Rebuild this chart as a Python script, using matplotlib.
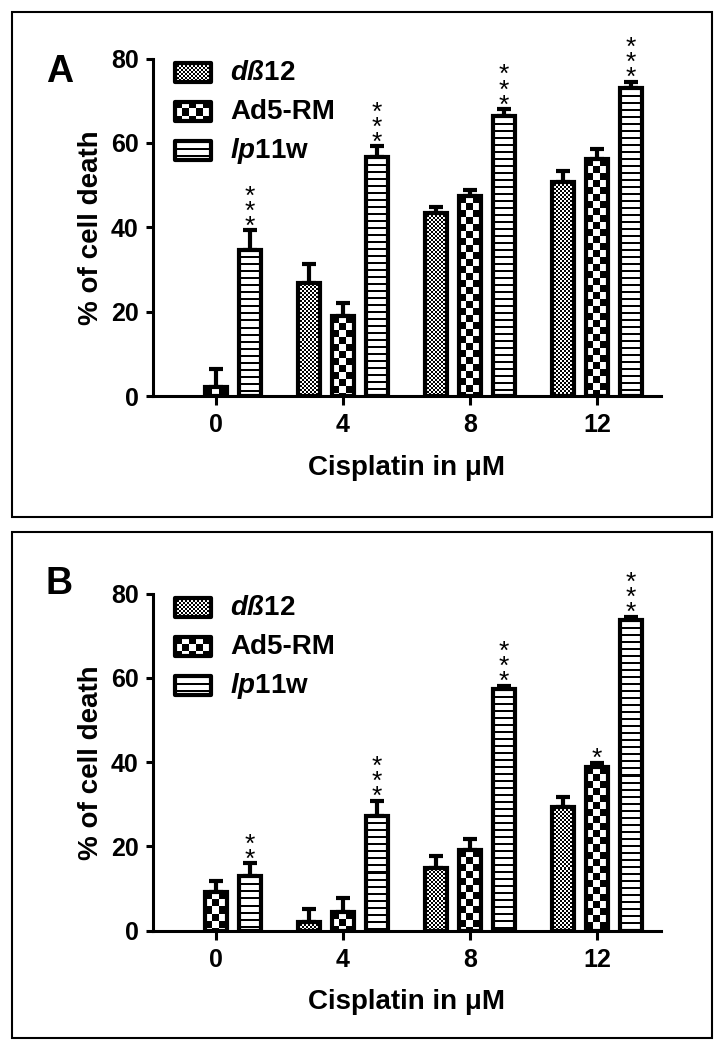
import numpy as np
import matplotlib
matplotlib.use('Agg')
import matplotlib.pyplot as plt
from matplotlib.patches import Rectangle

plt.rcParams['font.family'] = ['Liberation Sans', 'DejaVu Sans']
plt.rcParams['font.weight'] = 'bold'
plt.rcParams['mathtext.fontset'] = 'custom'
plt.rcParams['mathtext.it'] = 'Liberation Sans:italic:bold'
plt.rcParams['mathtext.rm'] = 'Liberation Sans:bold'

# ── data ────────────────────────────────────────────────────
doses = ['0', '4', '8', '12']
series = [r'$\mathit{dß}$12', 'Ad5-RM', r'$\mathit{lp}$11w']

# panel A
dl_A     = [0.0, 26.8, 43.3, 50.7]
dl_A_err = [0.0, 4.5, 1.5, 2.6]
ad_A     = [2.1, 18.9, 47.3, 56.1]
ad_A_err = [4.3, 3.1, 1.6, 2.4]
lp_A     = [34.7, 56.6, 66.3, 72.9]
lp_A_err = [4.6, 2.6, 1.7, 1.6]
stars_A  = [[0, 0, 0, 0], [0, 0, 0, 0], [3, 3, 3, 3]]

# panel B
dl_B     = [0.0, 2.1, 15.0, 29.3]
dl_B_err = [0.0, 3.0, 2.7, 2.5]
ad_B     = [9.1, 4.4, 19.2, 38.8]
ad_B_err = [2.6, 3.4, 2.6, 1.1]
lp_B     = [12.9, 27.3, 57.4, 73.7]
lp_B_err = [3.1, 3.6, 0.8, 0.8]
stars_B  = [[0, 0, 0, 0], [0, 0, 0, 1], [2, 3, 3, 3]]

W, H = 722, 1050
fig = plt.figure(figsize=(W / 100, H / 100), dpi=100)


def px_axes(left, top, right, bottom):
    return fig.add_axes([left / W, 1 - bottom / H,
                         (right - left) / W, (bottom - top) / H])


def pattern(kind, w, h):
    i = np.arange(h)[:, None]
    j = np.arange(w)[None, :]
    if kind == 'fine':
        return ((i // 2 + j // 2) % 2).astype(float)
    if kind == 'coarse':
        return ((i // 7 + j // 7) % 2).astype(float)
    return 1.0 - ((i % 7) < 2) * np.ones((1, w))


def fill_pattern(ax, patch, kind):
    bb = patch.get_window_extent()
    w, h = int(round(bb.width)), int(round(bb.height))
    if w < 1 or h < 1:
        return
    inv = ax.transData.inverted()
    (x0, y0), (x1, y1) = inv.transform([[bb.x0, bb.y0], [bb.x1, bb.y1]])
    ax.imshow(pattern(kind, w, h), cmap='gray', vmin=0, vmax=1,
              extent=(x0, x1, y0, y1), origin='upper', aspect='auto',
              interpolation='nearest', zorder=patch.get_zorder() + 0.1)


kinds = ['fine', 'coarse', 'stripes']
offsets = [-0.268, 0.0, 0.268]
width = 0.18


def panel(ax, vals, errs, stars):
    ax.set_xlim(-0.5, 3.5)
    ax.set_ylim(0, 80)
    ax.set_autoscale_on(False)
    x = np.arange(len(doses))
    for k in range(3):
        v = np.array(vals[k])
        e = np.array(errs[k])
        xs = x + offsets[k]
        bars = ax.bar(xs, v, width=width, color='white',
                      edgecolor='none', zorder=2)
        for b in bars:
            fill_pattern(ax, b, kinds[k])
        ax.bar(xs, v, width=width, fill=False, edgecolor='black',
               linewidth=[3 if val > 0 else 0 for val in v], zorder=3)
        m = v > 0
        ax.errorbar(xs[m], v[m], yerr=[np.zeros(m.sum()), e[m]],
                    fmt='none', ecolor='black', elinewidth=3,
                    capsize=4.7, capthick=3, zorder=1.8)
        # significance stars, stacked above the error cap
        for xi, top, n in zip(xs, v + e, stars[k]):
            if n:
                ax.annotate('\n'.join(['*'] * n), xy=(xi, top),
                            xytext=(0, -6.0), textcoords='offset points',
                            ha='center', va='bottom', linespacing=0.53,
                            fontsize=19, fontweight='normal')

    # legend drawn by hand, so the patches can carry the fill patterns
    for k in range(3):
        cy = 14 + 39 * k
        rect = Rectangle(((175 - 152.5) / 508, 1 - (cy + 9.5) / 337.5),
                         36 / 508, 19 / 337.5, transform=ax.transAxes,
                         facecolor='white', edgecolor='none', zorder=2)
        ax.add_patch(rect)
        fill_pattern(ax, rect, kinds[k])
        ax.add_patch(Rectangle(rect.get_xy(), rect.get_width(),
                               rect.get_height(), transform=ax.transAxes,
                               fill=False, edgecolor='black', linewidth=3,
                               joinstyle='round', zorder=3))
        ax.text((230 - 152.5) / 508, 1 - cy / 337.5, series[k],
                transform=ax.transAxes, ha='left', va='center',
                fontsize=20, fontweight='bold')

    for side in ['top', 'right']:
        ax.spines[side].set_visible(False)
    for side in ['left', 'bottom']:
        ax.spines[side].set_linewidth(2.2)
        ax.spines[side].set_capstyle('projecting')
    ax.set_xticks(x)
    ax.set_xticklabels(doses)
    ax.set_yticks([0, 20, 40, 60, 80])
    ax.tick_params(axis='y', direction='out', length=5, width=2.2,
                   pad=5, labelsize=18)
    ax.tick_params(axis='x', direction='out', length=6.5, width=2.2,
                   pad=6, labelsize=18)
    ax.set_xlabel('Cisplatin in μM', fontsize=20, fontweight='bold',
                  labelpad=12.5)
    ax.set_ylabel('% of cell death', fontsize=20, fontweight='bold',
                  labelpad=5)


axA = px_axes(152.5, 58.5, 660.5, 396)
axB = px_axes(152.5, 593.7, 660.5, 930.7)
panel(axA, [dl_A, ad_A, lp_A], [dl_A_err, ad_A_err, lp_A_err], stars_A)
panel(axB, [dl_B, ad_B, lp_B], [dl_B_err, ad_B_err, lp_B_err], stars_B)

# panel letters and frames
fig.text(46 / W, 1 - 72 / H, 'A', fontsize=27, fontweight='bold',
         ha='left', va='center')
fig.text(46 / W, 1 - 584 / H, 'B', fontsize=27, fontweight='bold',
         ha='left', va='center')
for top, bottom in [(12, 517), (532, 1038)]:
    fig.add_artist(Rectangle((12 / W, 1 - bottom / H), 700 / W,
                             (bottom - top) / H, transform=fig.transFigure,
                             fill=False, edgecolor='black', linewidth=1.5))

fig.savefig('out.png', dpi=100)
